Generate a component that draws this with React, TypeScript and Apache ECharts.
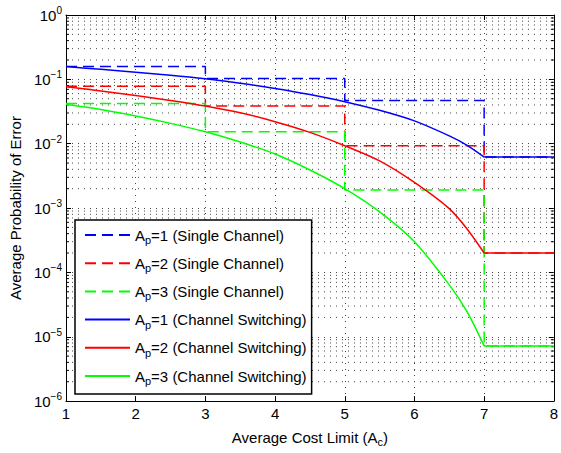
import React, { useEffect, useRef } from 'react';
import * as echarts from 'echarts';

// Single-channel step values (breakpoints at xSteps)
const xSteps = [1, 3, 5, 7, 8];
const singleAp1 = [0.158, 0.103, 0.047, 0.0062, 0.0062];
const singleAp2 = [0.078, 0.0385, 0.0093, 0.0002, 0.0002];
const singleAp3 = [0.042, 0.0153, 0.0019, 0.0000072, 0.0000072];

// Channel-switching curves (up to A_c = 7), then flat tails
const xCurve = [1, 1.5, 2, 2.5, 3, 3.5, 4, 4.5, 5, 5.5, 6, 6.5, 6.75, 7];
const switchAp1 = [0.158, 0.143, 0.129, 0.116, 0.102, 0.087, 0.072, 0.058, 0.045, 0.033, 0.0226, 0.0132, 0.0095, 0.0062];
const switchAp2 = [0.077, 0.066, 0.056, 0.047, 0.0385, 0.0302, 0.022, 0.015, 0.0093, 0.0054, 0.0025, 0.00098, 0.00048, 0.0002];
const switchAp3 = [0.041, 0.034, 0.027, 0.0207, 0.0153, 0.0106, 0.0069, 0.0039, 0.002, 0.00087, 0.0003, 0.000064, 0.000025, 0.0000072];
const xTail = [7, 8];
const tailAp1 = [0.0062, 0.0062];
const tailAp2 = [0.0002, 0.0002];
const tailAp3 = [0.0000072, 0.0000072];

const seriesNames = [
  'Ap=1 (Single Channel)',
  'Ap=2 (Single Channel)',
  'Ap=3 (Single Channel)',
  'Ap=1 (Channel Switching)',
  'Ap=2 (Channel Switching)',
  'Ap=3 (Channel Switching)',
];
const colors = ['#0000ff', '#ff0000', '#00ff00'];

const xMin = 1;
const xMax = 8;
const yMin = 1e-6;
const yMax = 1;
const decades = [-6, -5, -4, -3, -2, -1];
const mantissas = [2, 3, 4, 5, 6, 7, 8, 9];

export default function App() {
  const ref = useRef<HTMLDivElement>(null);
  useEffect(() => {
    const chart = echarts.init(ref.current!, null, { renderer: 'svg' });
    const font = '"Liberation Sans", Arial, Helvetica, sans-serif';
    const pair = (xs: number[], ys: number[]) => xs.map((x, i) => [x, ys[i]]);
    const minorVals: number[] = [];
    decades.forEach((d) => mantissas.forEach((m) => minorVals.push(m * Math.pow(10, d))));

    const dashed = (name: string, color: string, ys: number[]) => ({
      name,
      type: 'line',
      data: pair(xSteps, ys),
      step: 'end',
      symbol: 'none',
      lineStyle: { color, width: 1.5, type: [11, 6] },
      itemStyle: { color },
      z: 2,
    });
    const solid = (name: string, color: string, ys: number[]) => ({
      name,
      type: 'line',
      data: pair(xCurve, ys),
      smooth: 0.3,
      symbol: 'none',
      lineStyle: { color, width: 1.5 },
      itemStyle: { color },
      z: 2,
    });
    const tail = (name: string, color: string, ys: number[]) => ({
      name,
      type: 'line',
      data: pair(xTail, ys),
      symbol: 'none',
      lineStyle: { color, width: 1.5 },
      itemStyle: { color },
      z: 2,
    });
    const gridStyle = { color: '#444', type: [1, 5], width: 1 };
    const axisLine = { show: true, onZero: false, lineStyle: { color: '#000', width: 1 } };
    const tick = { show: true, inside: true, length: 5, lineStyle: { color: '#000', width: 1 } };

    const option: any = {
      animation: false,
      textStyle: { fontFamily: font },
      grid: { left: 64, right: 4, top: 15, bottom: 49 },
      xAxis: [
        {
          type: 'value', min: xMin, max: xMax, interval: 1, position: 'bottom',
          axisLine, axisTick: tick,
          axisLabel: { color: '#000', fontSize: 15, margin: 5, fontFamily: font },
          splitLine: { show: true, lineStyle: gridStyle },
          name: 'Average Cost Limit (A{sub|c})',
          nameLocation: 'middle',
          nameGap: 23,
          nameTextStyle: {
            color: '#000', fontSize: 15, fontFamily: font, lineHeight: 22,
            rich: { sub: { fontSize: 11, lineHeight: 12, padding: [10, 0, 0, 0], fontFamily: font, color: '#000' } },
          },
        },
        {
          type: 'value', min: xMin, max: xMax, interval: 1, position: 'top',
          axisLine, axisTick: tick, axisLabel: { show: false }, splitLine: { show: false },
        },
      ],
      yAxis: [
        {
          type: 'log', logBase: 10, min: yMin, max: yMax, splitNumber: 6, position: 'left',
          axisLine, axisTick: tick,
          axisLabel: {
            color: '#000', fontSize: 15, margin: 4, fontFamily: font,
            formatter: (v: number) => {
              const e = Math.round(Math.log10(v));
              return '10{sup|' + (e < 0 ? '\u2212' + -e : String(e)) + '}';
            },
            rich: { sup: { fontSize: 10, padding: [0, 0, 9, 0], fontFamily: font, color: '#000' } },
          },
          splitLine: { show: true, lineStyle: gridStyle },
          name: 'Average Probability of Error',
          nameLocation: 'middle',
          nameGap: 40,
          nameTextStyle: { color: '#000', fontSize: 15, fontFamily: font },
        },
        {
          type: 'log', logBase: 10, min: yMin, max: yMax, splitNumber: 6, position: 'right',
          axisLine, axisTick: tick, axisLabel: { show: false }, splitLine: { show: false },
        },
      ],
      legend: {
        orient: 'vertical', left: 75, top: 220, z: 10,
        itemWidth: 45, itemHeight: 14, itemGap: 6.2,
        padding: [4, 5, 7, 9],
        backgroundColor: '#fff', borderColor: '#000', borderWidth: 1.5, borderRadius: 0,
        data: seriesNames,
        itemStyle: { opacity: 0 },
        formatter: (n: string) => n.replace('Ap', 'A{sub|p}'),
        textStyle: {
          fontSize: 15, color: '#000', fontFamily: font, lineHeight: 22,
          rich: { sub: { fontSize: 11, lineHeight: 12, padding: [10, 0, 0, 0], fontFamily: font, color: '#000' } },
        },
      },
      series: [
        {
          type: 'custom', name: 'minor', silent: true, z: 1, clip: false,
          xAxisIndex: 0, yAxisIndex: 0,
          data: minorVals.map((v) => [xMin, v]),
          renderItem: (_p: any, api: any) => {
            const v = api.value(1);
            const l = api.coord([xMin, v]);
            const r = api.coord([xMax, v]);
            return {
              type: 'group',
              children: [
                { type: 'line', shape: { x1: l[0], y1: l[1], x2: r[0], y2: r[1] }, style: { stroke: '#444', lineWidth: 1, lineDash: [1, 5] } },
                { type: 'line', shape: { x1: l[0], y1: l[1], x2: l[0] + 3, y2: l[1] }, style: { stroke: '#000', lineWidth: 1 } },
                { type: 'line', shape: { x1: r[0], y1: r[1], x2: r[0] - 3, y2: r[1] }, style: { stroke: '#000', lineWidth: 1 } },
              ],
            };
          },
        },
        dashed(seriesNames[0], colors[0], singleAp1),
        dashed(seriesNames[1], colors[1], singleAp2),
        dashed(seriesNames[2], colors[2], singleAp3),
        solid(seriesNames[3], colors[0], switchAp1),
        solid(seriesNames[4], colors[1], switchAp2),
        solid(seriesNames[5], colors[2], switchAp3),
        tail(seriesNames[3], colors[0], tailAp1),
        tail(seriesNames[4], colors[1], tailAp2),
        tail(seriesNames[5], colors[2], tailAp3),
      ],
    };
    chart.setOption(option);
    return () => chart.dispose();
  }, []);
  return <div ref={ref} style={{ position: 'absolute', left: 0, top: 0, width: 561, height: 453, background: '#fff' }} />;
}
